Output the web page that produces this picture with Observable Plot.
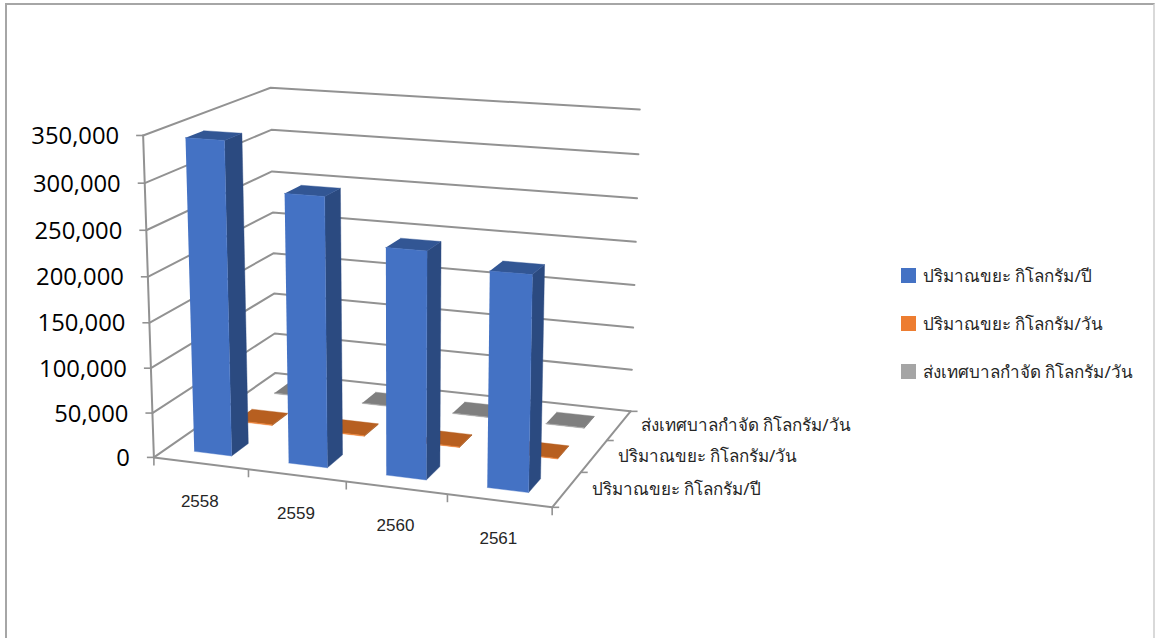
<!DOCTYPE html>
<html><head><meta charset="utf-8">
<script src="https://cdn.jsdelivr.net/npm/d3@7"></script>
<script src="https://cdn.jsdelivr.net/npm/@observablehq/plot@0.6"></script>
<style>
html,body{margin:0;padding:0;background:#fff;overflow:hidden;width:1158px;height:638px}
#chart{position:absolute;left:0;top:0}
#frame{position:absolute;left:5px;top:3px;width:1150px;height:640px;border-top:2px solid #a6a6a6;border-left:2px solid #a6a6a6;border-right:2px solid #d9d9d9;box-sizing:border-box}
#legend{position:absolute;left:901px;top:251px;font-family:"Noto Sans","DejaVu Sans",sans-serif;font-size:17px;color:#262626}
#legend div{display:flex;align-items:center;height:48px;white-space:nowrap}
#legend i{display:inline-block;width:15px;height:15px;margin-right:7px}
</style></head><body>
<div id="frame"></div><div id="chart"></div><div id="legend"></div>
<script>
const categories = ["2558","2559","2560","2561"];
const seriesNames = ["ปริมาณขยะ กิโลกรัม/ปี","ปริมาณขยะ กิโลกรัม/วัน","ส่งเทศบาลกำจัด กิโลกรัม/วัน"];
const wastePerYear = [344000,293000,245000,230000];
const wastePerDay = [943,803,671,630];
const municipalPerDay = [800,700,600,550];
const valueTicks = [0,50000,100000,150000,200000,250000,300000,350000];
const axisMax = 350000;
const gapRatio = 1.5;
const legendColors = ["#4472c4","#ed7d31","#a5a5a5"];
const frontColors = ["#4472c4","#ed7d31","#a5a5a5"];
const sideColors = ["#2b4a80","#a0551f","#6b6b6b"];
const topColors = ["#325694","#b75f20","#7f7f7f"];
const gridColor = "#929292";

// Camera calibration: where the box corners of the 3D chart land on the page.
const calibration = [
  [0,0,0,153.3,457],[1,0,0,551.7,506.7],[0,1,0,275,372.3],[1,1,0,630,411],
  [0,0,1,142.7,135],[0,1,1,270,87.3],[1,1,1,639.3,109]
];
function solveCamera(points){
  const n=11, A=Array.from({length:n},()=>new Array(n+1).fill(0));
  const add=(r,b)=>{for(let i=0;i<n;i++){for(let j=0;j<n;j++)A[i][j]+=r[i]*r[j];A[i][n]+=r[i]*b;}};
  for(const [u,v,w,x,y] of points){
    add([u,v,w,1,0,0,0,0,-x*u,-x*v,-x*w],x);
    add([0,0,0,0,u,v,w,1,-y*u,-y*v,-y*w],y);
  }
  for(let c=0;c<n;c++){
    let p=c;for(let r=c+1;r<n;r++)if(Math.abs(A[r][c])>Math.abs(A[p][c]))p=r;
    [A[c],A[p]]=[A[p],A[c]];
    for(let r=0;r<n;r++){if(r===c)continue;const f=A[r][c]/A[c][c];for(let k=c;k<=n;k++)A[r][k]-=f*A[c][k];}
  }
  return A.map((row,i)=>row[n]/row[i]);
}
const H = solveCamera(calibration);
const project=(u,v,w)=>{
  const d=H[8]*u+H[9]*v+H[10]*w+1;
  return [(H[0]*u+H[1]*v+H[2]*w+H[3])/d,(H[4]*u+H[5]*v+H[6]*w+H[7])/d];
};
const wOf=val=>val/axisMax;

// Gridlines on the two walls, and the axis frame
const lines=[];
const pushLine=(id,pts)=>pts.forEach(([u,v,w],i)=>{const [x,y]=project(u,v,w);lines.push({id,i,x,y});});
valueTicks.forEach(t=>pushLine("grid"+t,[[0,0,wOf(t)],[0,1,wOf(t)],[1,1,wOf(t)]]));
pushLine("axisY",[[0,0,0],[0,0,1]]);
pushLine("axisX",[[0,0,0],[1,0,0]]);
pushLine("axisZ",[[1,0,0],[1,1,0]]);

// Tick marks
const tickLen=7, ticks=[];
const hTick=(u,v,w,s)=>{const [x,y]=project(u,v,w);ticks.push({x1:x,x2:x+s*tickLen,y1:y,y2:y});};
const vTick=(u)=>{const [x,y]=project(u,0,0);ticks.push({x1:x,x2:x,y1:y,y2:y+tickLen+1});};
valueTicks.forEach(t=>hTick(0,0,wOf(t),-1));
d3.range(categories.length+1).forEach(i=>vTick(i/categories.length));
d3.range(seriesNames.length+1).forEach(j=>hTick(1,j/seriesNames.length,0,1));

// Bars: each cuboid sits centred in its category x series cell
const seriesValues=[wastePerYear,wastePerDay,municipalPerDay];
const faces=[];
const nc=categories.length, ns=seriesNames.length;
const inset=(gapRatio/(1+gapRatio))/2;
[2,1,0].forEach(s=>{
  categories.forEach((c,i)=>{
    const u0=(i+inset)/nc,u1=(i+1-inset)/nc,v0=(s+inset)/ns,v1=(s+1-inset)/ns,w=wOf(seriesValues[s][i]);
    const face=(name,color,pts)=>pts.forEach(([a,b,h],k)=>{const [x,y]=project(a,b,h);faces.push({id:`${s}-${i}-${name}`,k,x,y,color});});
    face("side",sideColors[s],[[u1,v0,0],[u1,v1,0],[u1,v1,w],[u1,v0,w]]);
    face("top",topColors[s],[[u0,v0,w],[u1,v0,w],[u1,v1,w],[u0,v1,w]]);
    face("front",frontColors[s],[[u0,v0,0],[u1,v0,0],[u1,v0,w],[u0,v0,w]]);
  });
});

const yLabels=valueTicks.map(t=>{const [x,y]=project(0,0,wOf(t));return {x,y,t:d3.format(",")(t)};});
const catLabels=categories.map((c,i)=>{const [x,y]=project((i+.5)/nc,0,0);return {x,y,t:c};});
const serLabels=seriesNames.map((n,j)=>{const [x,y]=project(1,(j+.5)/ns,0);return {x:x+(ns-1-j)*1.5,y,t:n};});

const plot=Plot.plot({
  width:1158,height:638,margin:0,
  x:{type:"identity",axis:null},y:{type:"identity",axis:null},color:{type:"identity"},
  style:{background:"transparent",overflow:"visible"},
  marks:[
    Plot.line(lines,{x:"x",y:"y",z:"id",stroke:gridColor,strokeWidth:2,strokeLinejoin:"miter"}),
    Plot.link(ticks,{x1:"x1",x2:"x2",y1:"y1",y2:"y2",stroke:gridColor,strokeWidth:1.6}),
    Plot.line(faces,{x:"x",y:"y",z:"id",dx:-1,fill:"color",stroke:"color",strokeWidth:.4}),
    Plot.text(yLabels,{x:"x",y:"y",text:"t",dx:-24,dy:1,textAnchor:"end",fontSize:23.8,fontFamily:"Open Sans",fill:"#000"}),
    Plot.text(catLabels,{x:"x",y:"y",text:"t",dx:-1,dy:38,fontSize:17,fontFamily:"Liberation Sans",fill:"#262626"}),
    Plot.text(serLabels,{x:"x",y:"y",text:"t",dx:22,dy:0,textAnchor:"start",fontSize:17,fontFamily:"Noto Sans, DejaVu Sans, sans-serif",fill:"#262626"})
  ]
});
document.getElementById("chart").append(plot);
const lg=document.getElementById("legend");
seriesNames.forEach((n,i)=>{
  const row=document.createElement("div");
  const sw=document.createElement("i");sw.style.background=legendColors[i];
  const tx=document.createElement("span");tx.textContent=n;
  row.append(sw,tx);lg.append(row);
});
</script></body></html>
